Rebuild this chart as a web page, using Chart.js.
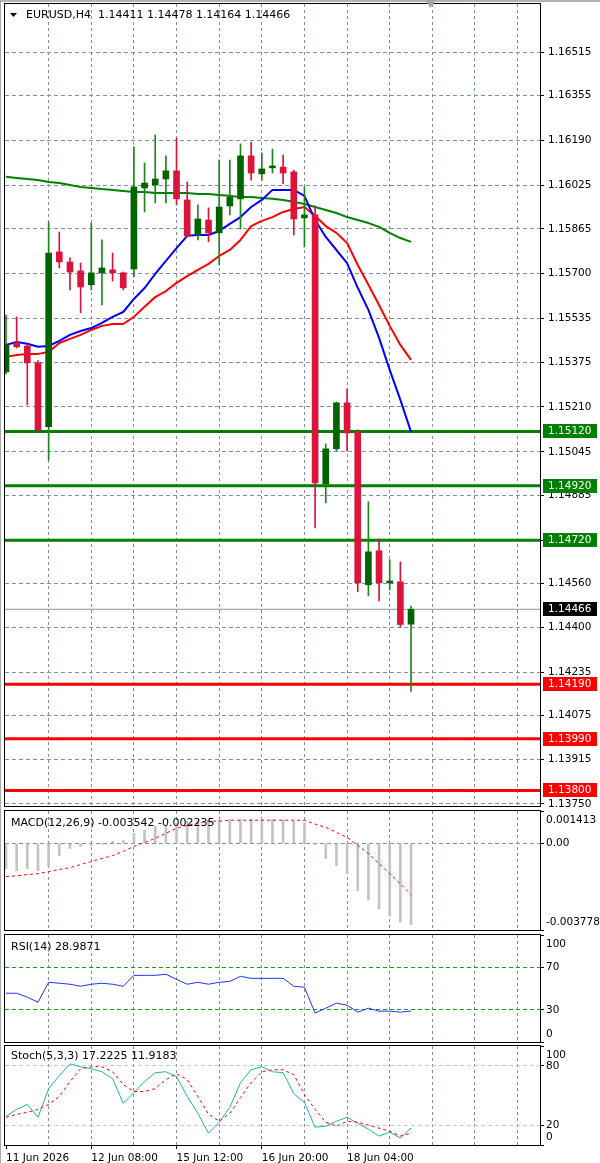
<!DOCTYPE html>
<html>
<head>
<meta charset="utf-8">
<script src="https://cdn.jsdelivr.net/npm/chart.js@4.4.1/dist/chart.umd.min.js"></script>
<style>
  html, body { margin: 0; padding: 0; background: #fff; }
  #wrap { position: relative; width: 600px; height: 1163px; overflow: hidden; background: #fff; }
  #edge { position: absolute; left: 0; top: 0; width: 599px; height: 1161px; border-left: 1px solid #a9a9a9; border-top: 2px solid #b4b4b4; }
  canvas { position: absolute; left: 0; }
</style>
</head>
<body>
<div id="wrap">
  <div id="edge"></div>
  <canvas id="main" width="600" height="812" style="top:0px"></canvas>
  <canvas id="macd" width="600" height="124" style="top:808px"></canvas>
  <canvas id="rsi" width="600" height="112" style="top:932px"></canvas>
  <canvas id="stoch" width="600" height="119" style="top:1044px"></canvas>
</div>
<script>
// EURUSD H4, 39 bars
const symbol = 'EURUSD,H4';
const opens  = [1.15339,1.15445,1.15434,1.15372,1.15137,1.15780,1.15743,1.15710,1.15659,1.15703,1.15714,1.15703,1.15717,1.16015,1.16026,1.16048,1.16078,1.15971,1.15842,1.15897,1.15850,1.15949,1.15975,1.16133,1.16067,1.16089,1.16092,1.16074,1.15905,1.15916,1.14927,1.15056,1.15225,1.15118,1.14556,1.14681,1.14563,1.14567,1.14411];
const highs  = [1.15548,1.15541,1.15440,1.15380,1.15890,1.15853,1.15758,1.15739,1.15886,1.15824,1.15776,1.15706,1.16166,1.16107,1.16210,1.16133,1.16199,1.16037,1.15953,1.15942,1.16118,1.16118,1.16177,1.16184,1.16144,1.16158,1.16136,1.16080,1.16019,1.15949,1.15074,1.15228,1.15276,1.15126,1.14861,1.14725,1.14648,1.14640,1.14478];
const lows   = [1.15331,1.15427,1.15217,1.15118,1.15015,1.15721,1.15640,1.15556,1.15640,1.15585,1.15673,1.15640,1.15688,1.15927,1.15960,1.15960,1.15953,1.15835,1.15824,1.15817,1.15732,1.15916,1.15864,1.16044,1.16044,1.16070,1.16030,1.15842,1.15798,1.14765,1.14857,1.15048,1.15048,1.14530,1.14515,1.14497,1.14537,1.14400,1.14164];
const closes = [1.15438,1.15431,1.15372,1.15126,1.15776,1.15743,1.15706,1.15651,1.15703,1.15721,1.15703,1.15648,1.16019,1.16033,1.16048,1.16078,1.15975,1.15839,1.15901,1.15850,1.15945,1.15982,1.16133,1.16070,1.16085,1.16096,1.16070,1.15901,1.15916,1.14931,1.15056,1.15225,1.15114,1.14563,1.14677,1.14563,1.14570,1.14410,1.14466];

const maFast = [1.15438,1.15449,1.15442,1.15431,1.15434,1.15453,1.15475,1.15489,1.15500,1.15519,1.15541,1.15559,1.15607,1.15647,1.15699,1.15747,1.15794,1.15839,1.15842,1.15842,1.15857,1.15883,1.15908,1.15945,1.15971,1.16008,1.16008,1.16008,1.15986,1.15897,1.15835,1.15787,1.15739,1.15648,1.15567,1.15464,1.15346,1.15236,1.15118];
const maMid  = [1.15394,1.15401,1.15405,1.15405,1.15412,1.15445,1.15460,1.15475,1.15493,1.15508,1.15515,1.15515,1.15541,1.15578,1.15614,1.15636,1.15666,1.15691,1.15714,1.15736,1.15765,1.15787,1.15824,1.15875,1.15894,1.15908,1.15927,1.15938,1.15945,1.15912,1.15875,1.15850,1.15813,1.15732,1.15659,1.15585,1.15508,1.15438,1.15383];
const maSlow = [1.16056,1.16052,1.16048,1.16044,1.16037,1.16033,1.16026,1.16019,1.16015,1.16011,1.16008,1.16004,1.16000,1.16000,1.15997,1.15997,1.15997,1.15997,1.15993,1.15993,1.15989,1.15986,1.15982,1.15982,1.15978,1.15975,1.15971,1.15964,1.15956,1.15945,1.15934,1.15923,1.15908,1.15897,1.15886,1.15872,1.15850,1.15831,1.15817];

const resistLevels = [1.15120, 1.14920, 1.14720];
const supportLevels = [1.14190, 1.13990, 1.13800];
const priceTicks = [1.16515,1.16355,1.16190,1.16025,1.15865,1.15700,1.15535,1.15375,1.15210,1.15045,1.14885,1.14720,1.14560,1.14400,1.14235,1.14075,1.13915,1.13750];
const priceRange = [1.137426, 1.166915];

const macdMain = [-0.00110,-0.00119,-0.00110,-0.00119,-0.00101,-0.00053,-0.00022,-0.00013,-0.00009,-0.00004,0.00009,0.00013,0.00044,0.00057,0.00075,0.00079,0.00088,0.00097,0.00099,0.00100,0.00102,0.00104,0.00106,0.00106,0.00105,0.00104,0.00103,0.00098,0.00090,-0.00004,-0.00066,-0.00097,-0.00132,-0.00207,-0.00246,-0.00286,-0.00317,-0.00343,-0.003542];
const macdSignal = [-0.00145,-0.00141,-0.00136,-0.00132,-0.00123,-0.00114,-0.00106,-0.00092,-0.00079,-0.00066,-0.00053,-0.00035,-0.00013,0.00004,0.00022,0.00044,0.00066,0.00079,0.00088,0.00097,0.00097,0.00101,0.00101,0.00101,0.00101,0.00101,0.00101,0.00101,0.00101,0.00084,0.00070,0.00048,0.00026,-0.00009,-0.00044,-0.00088,-0.00132,-0.00176,-0.002235];
const macdAxis = [0.001413, 0, -0.003778];
const macdAxisLabels = ['0.001413', '0.00', '-0.003778'];

const rsi = [45.6,45.6,41.9,37.2,55.8,54.9,54.0,52.1,54.0,54.9,54.0,52.1,62.3,62.3,62.3,63.3,58.6,54.0,55.8,54.0,55.8,56.7,61.4,59.5,59.5,59.5,59.5,52.1,51.2,27.0,31.6,36.3,34.4,27.9,31.6,28.8,28.8,27.9,28.9871];
const rsiAxis = [100, 70, 30, 0];
const rsiLevels = [70, 30];

const stochK = [29,36,41,28,57,70,82,79,77,74,67,42,53,64,73,74,69,49,32,12,23,38,63,76,79,74,73,52,43,18,19,24,28,22,16,9,13,7,17.2225];
const stochD = [28,31,33,36,41,49,64,77,79,79,74,61,54,54,57,66,72,66,49,31,24,32,48,63,74,76,76,71,51,36,23,19,24,23,20,17,14,9,11.9183];
const stochAxis = [100, 80, 20, 0];
const stochLevels = [80, 20];

// one label every 8 bars
const timeTicks = ['11 Jun 2026', '12 Jun 08:00', '15 Jun 12:00', '16 Jun 20:00', '18 Jun 04:00'];

const FONT = '10.5px "DejaVu Sans"';
const TITLE_FONT = '11px "DejaVu Sans"';
const GRID = '#8290a0';
const X_MIN = -0.094, X_MAX = 50.1;
Chart.defaults.font.family = '"DejaVu Sans"';
Chart.defaults.font.size = 10.5;
Chart.defaults.color = '#000';

const pts = arr => arr.map((y, i) => ({ x: i, y }));
const flat = v => [{ x: X_MIN, y: v }, { x: X_MAX, y: v }];
const gridIdx = [];
for (let i = 0; i <= 48; i += 4) gridIdx.push(i);
const labelAt = v => (v % 8 === 0 && v / 8 < timeTicks.length) ? timeTicks[v / 8] : '';

function xScale(showLabels) {
  return {
    type: 'linear', min: X_MIN, max: X_MAX, offset: false, bounds: 'data',
    afterBuildTicks: s => { s.ticks = gridIdx.map(v => ({ value: v })); },
    afterFit: s => { s.height = showLabels ? 18 : 0; s.paddingLeft = 0; s.paddingRight = 0; },
    grid: {
      offset: false,
      color: c => (c.tick && c.tick.value > 0) ? GRID : 'rgba(0,0,0,0)',
      drawTicks: showLabels, tickLength: 4, tickBorderDash: [],
      tickColor: c => (c.tick && labelAt(c.tick.value)) ? '#000' : 'rgba(0,0,0,0)'
    },
    border: { display: false, dash: [3, 3] },
    ticks: {
      display: showLabels, autoSkip: false, maxRotation: 0, minRotation: 0,
      align: 'start', padding: 3, color: '#000',
      callback: v => labelAt(v)
    }
  };
}

function subY(axisVals, gridColor) {
  return {
    position: 'right', min: Math.min(...axisVals), max: Math.max(...axisVals), bounds: 'data',
    afterBuildTicks: s => { s.ticks = axisVals.map(v => ({ value: v })); },
    afterFit: s => { s.width = 60; s.paddingTop = 0; s.paddingBottom = 0; },
    grid: { color: c => c.tick ? gridColor(c.tick.value) : 'rgba(0,0,0,0)', tickLength: 4, tickColor: '#000', tickBorderDash: [] },
    border: { display: false, dash: [4, 3] },
    ticks: { display: false }
  };
}

const panelPlugin = {
  id: 'panel',
  afterDraw(chart, args, opts) {
    const { ctx, chartArea: a } = chart;
    const y = chart.scales.y;
    ctx.save();
    ctx.font = FONT;
    ctx.textBaseline = 'middle';
    ctx.textAlign = 'left';
    if (opts.axisValues) {
      ctx.fillStyle = '#000';
      opts.axisValues.forEach((v, i) => {
        let py = y.getPixelForValue(v);
        py = Math.min(Math.max(py, a.top + 9), a.bottom - 8);
        ctx.fillText(opts.axisLabels[i], a.right + 6, py);
      });
    }
    (opts.boxes || []).forEach(b => {
      const py = Math.round(y.getPixelForValue(b.value));
      ctx.fillStyle = b.bg;
      ctx.fillRect(a.right + 3, py - 7, 54, 14);
      ctx.fillStyle = '#fff';
      ctx.fillText(b.value.toFixed(5), a.right + 8, py + 0.5);
    });
    ctx.strokeStyle = '#000';
    ctx.lineWidth = 1;
    ctx.strokeRect(a.left - 0.5, a.top - 0.5, a.right - a.left + 1, a.bottom - a.top + 1);
    if (opts.marker) {
      ctx.fillStyle = '#000';
      ctx.beginPath();
      ctx.moveTo(a.left + 5, a.top + 9); ctx.lineTo(a.left + 12, a.top + 9); ctx.lineTo(a.left + 8.5, a.top + 13);
      ctx.closePath(); ctx.fill();
      ctx.fillStyle = '#a6a6a6';
      ctx.beginPath();
      ctx.moveTo(a.left + 420, 0); ctx.lineTo(a.left + 431, 0); ctx.lineTo(a.left + 425.5, 8);
      ctx.closePath(); ctx.fill();
    }
    if (opts.title) {
      ctx.font = TITLE_FONT;
      ctx.fillStyle = '#000';
      ctx.fillText(opts.title, a.left + opts.titleX, a.top + opts.titleY);
    }
    ctx.restore();
  }
};

const baseOpts = (padding) => ({
  responsive: false,
  animation: false,
  layout: { padding, autoPadding: false },
  plugins: { legend: { display: false }, tooltip: { enabled: false } },
  events: []
});

const line = (data, color, width, order, dash) => ({
  type: 'line', data, borderColor: color, borderWidth: width, borderDash: dash || [],
  pointRadius: 0, tension: 0, fill: false, order, borderJoinStyle: 'round'
});

// price panel
const up = closes.map((c, i) => c >= opens[i]);
const last = closes.length - 1;
const mainOpts = baseOpts({ left: 5, right: 0, top: 4, bottom: 6 });
mainOpts.scales = {
  x: xScale(false),
  y: {
    position: 'right', min: priceRange[0], max: priceRange[1], bounds: 'data',
    afterBuildTicks: s => { s.ticks = priceTicks.map(v => ({ value: v })); },
    afterFit: s => { s.width = 60; s.paddingTop = 0; s.paddingBottom = 0; },
    grid: { color: GRID, tickLength: 4, tickColor: '#000', tickBorderDash: [] },
    border: { display: false, dash: [4, 3] },
    ticks: { padding: 4, color: '#000', autoSkip: false, callback: v => v.toFixed(5) }
  }
};
mainOpts.plugins.panel = {
  marker: true,
  title: `${symbol}  ${opens[last].toFixed(5)} ${highs[last].toFixed(5)} ${lows[last].toFixed(5)} ${closes[last].toFixed(5)}`,
  titleX: 21, titleY: 11,
  boxes: [
    ...resistLevels.map(v => ({ value: v, bg: '#008000' })),
    ...supportLevels.map(v => ({ value: v, bg: '#ff0000' })),
    { value: closes[last], bg: '#000' }
  ]
};
new Chart(document.getElementById('main'), {
  type: 'bar',
  data: {
    datasets: [
      { type: 'bar', data: opens.map((o, i) => ({ x: i, y: [o, closes[i]] })), backgroundColor: up.map(u => u ? '#006400' : '#dc143c'), barThickness: 6, grouped: false, minBarLength: 1, order: 1 },
      { type: 'bar', data: lows.map((l, i) => ({ x: i, y: [l, highs[i]] })), backgroundColor: up.map(u => u ? '#1c861c' : '#dc143c'), barThickness: 1, grouped: false, order: 2 },
      line(pts(maFast), '#0000ff', 2, 3),
      line(pts(maMid), '#ff0000', 2, 4),
      line(pts(maSlow), '#008000', 2, 5),
      ...resistLevels.map(v => line(flat(v), '#008000', 3, 6)),
      ...supportLevels.map(v => line(flat(v), '#ff0000', 3, 6)),
      line(flat(closes[last]), '#8794a4', 1, 7)
    ]
  },
  options: mainOpts,
  plugins: [panelPlugin]
});

// MACD
const macdOpts = baseOpts({ left: 5, right: 0, top: 3, bottom: 2 });
macdOpts.scales = { x: xScale(false), y: subY(macdAxis, v => v === 0 ? GRID : 'rgba(0,0,0,0)') };
macdOpts.plugins.panel = {
  axisValues: macdAxis, axisLabels: macdAxisLabels,
  title: `MACD(12,26,9) ${macdMain[last].toFixed(6)} ${macdSignal[last].toFixed(6)}`, titleX: 6, titleY: 12
};
new Chart(document.getElementById('macd'), {
  type: 'bar',
  data: {
    datasets: [
      { type: 'bar', data: pts(macdMain), backgroundColor: '#c3c3c3', barThickness: 2, grouped: false, order: 2 },
      line(pts(macdSignal), '#ff0000', 1, 1, [3, 3])
    ]
  },
  options: macdOpts,
  plugins: [panelPlugin]
});

// RSI
const rsiOpts = baseOpts({ left: 5, right: 0, top: 3, bottom: 2 });
rsiOpts.scales = { x: xScale(false), y: subY(rsiAxis, v => rsiLevels.includes(v) ? '#1f9a1f' : 'rgba(0,0,0,0)') };
rsiOpts.plugins.panel = {
  axisValues: rsiAxis, axisLabels: rsiAxis.map(String),
  title: `RSI(14) ${rsi[last].toFixed(4)}`, titleX: 6, titleY: 12
};
new Chart(document.getElementById('rsi'), {
  type: 'line',
  data: { datasets: [line(pts(rsi), '#1f35f0', 1, 1)] },
  options: rsiOpts,
  plugins: [panelPlugin]
});

// Stochastic
const stochOpts = baseOpts({ left: 5, right: 0, top: 2, bottom: 0 });
stochOpts.scales = { x: xScale(true), y: subY(stochAxis, v => stochLevels.includes(v) ? '#c2c8d0' : 'rgba(0,0,0,0)') };
stochOpts.plugins.panel = {
  axisValues: stochAxis, axisLabels: stochAxis.map(String),
  title: `Stoch(5,3,3) ${stochK[last].toFixed(4)} ${stochD[last].toFixed(4)}`, titleX: 6, titleY: 10
};
new Chart(document.getElementById('stoch'), {
  type: 'line',
  data: {
    datasets: [
      line(pts(stochK), '#20b2aa', 1, 2),
      line(pts(stochD), '#ff0000', 1, 1, [3, 3])
    ]
  },
  options: stochOpts,
  plugins: [panelPlugin]
});
</script>
</body>
</html>
